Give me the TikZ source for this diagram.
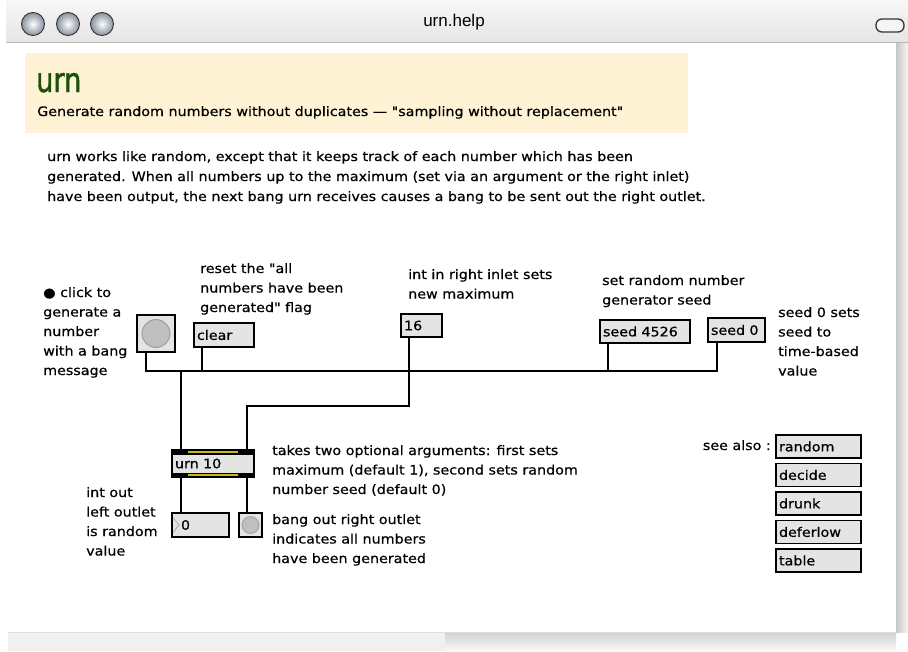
\documentclass[tikz,border=0pt]{standalone}
\usepackage{fontspec}
\newfontfamily\genevafont[FakeStretch=1.1,FakeBold=0.6]{DejaVu Sans}
\newfontfamily\urnfont[FakeStretch=0.8,FakeBold=1.2]{DejaVu Sans}
\newfontfamily\titlefont{Liberation Sans}
\newcommand{\gen}{\genevafont\fontsize{13}{19.5}\selectfont}
\newcommand{\genp}{\genevafont\fontsize{13}{20}\selectfont}
\definecolor{hdr}{RGB}{254,244,213}
\definecolor{urngreen}{RGB}{30,80,10}
\definecolor{boxfill}{RGB}{228,228,228}
\definecolor{yel}{RGB}{205,185,20}
\definecolor{glass}{RGB}{135,145,158}
\begin{document}
\begin{tikzpicture}[x=1pt,y=-1pt,
  maxbox/.style={draw=black, fill=boxfill, line width=1.2pt, inner sep=0pt, inner xsep=3pt,
    outer sep=0pt, anchor=north west, font=\gen, align=left},
  cord/.style={line width=1.3pt, black},
  cmt/.style={anchor=base west, inner sep=0pt, font=\gen},
]
\useasboundingbox (0,0) rectangle (908,651);
\fill[white] (0,0) rectangle (908,651);
% title bar
\shade[top color=gray!6, bottom color=gray!20] (6,0) rectangle (908,42);
\draw[gray!55, line width=1pt] (6,42) -- (908,42);
\foreach \cx in {33,68,102}
  \shade[inner color=white, outer color=glass, draw=gray!40!black, line width=0.9pt] (\cx,24) circle (11.5);
\node[font=\titlefont\fontsize{17}{20}\selectfont] (title) at (454,22) {urn.help};
\draw[gray!40!black, line width=1.3pt, fill=gray!8, rounded corners=6pt] (876,19) rectangle (904,32);
% scroll areas
\shade[left color=gray!45, right color=gray!6] (896,43) rectangle (908,632);
\fill[gray!12] (8,633) rectangle (445,651);
\shade[top color=gray!35, bottom color=gray!4] (445,633) rectangle (896,651);
\draw[gray!25] (8,632.5) -- (896,632.5);
% header
\fill[hdr] (25,53) rectangle (688,133);
\node[anchor=base west, inner sep=0pt, text=urngreen, font=\urnfont\fontsize{34}{36}\selectfont] (urnt) at (36,92) {urn};
\node[cmt] (sub) at (37,116) {Generate random numbers without duplicates — "sampling without replacement"};
% paragraph
\node[anchor=base west, inner sep=0pt, font=\genp] (para) at (47,161)
  {\begin{tabular}[t]{@{}l@{}}urn works like random, except that it keeps track of each number which has been\\
   generated. When all numbers up to the maximum (set via an argument or the right inlet)\\
   have been output, the next bang urn receives causes a bang to be sent out the right outlet.\end{tabular}};
% comments
\node[cmt] (c1) at (43,297) {\begin{tabular}[t]{@{}l@{}}● click to\\generate a\\number\\with a bang\\message\end{tabular}};
\node[cmt] (c2) at (200,273) {\begin{tabular}[t]{@{}l@{}}reset the "all\\numbers have been\\generated" flag\end{tabular}};
\node[cmt] (c3) at (408,279) {\begin{tabular}[t]{@{}l@{}}int in right inlet sets\\new maximum\end{tabular}};
\node[cmt] (c4) at (602,285) {\begin{tabular}[t]{@{}l@{}}set random number\\generator seed\end{tabular}};
\node[cmt] (c5) at (778,317) {\begin{tabular}[t]{@{}l@{}}seed 0 sets\\seed to\\time-based\\value\end{tabular}};
\node[cmt] (c6) at (272,455) {\begin{tabular}[t]{@{}l@{}}takes two optional arguments: first sets\\maximum (default 1), second sets random\\number seed (default 0)\end{tabular}};
\node[cmt] (c7) at (86,497) {\begin{tabular}[t]{@{}l@{}}int out\\left outlet\\is random\\value\end{tabular}};
\node[cmt] (c8) at (272,524) {\begin{tabular}[t]{@{}l@{}}bang out right outlet\\indicates all numbers\\have been generated\end{tabular}};
\node[cmt, anchor=base east] (see) at (771,450) {see also :};
% objects
\node[maxbox, minimum width=38pt, minimum height=37pt] (bang1) at (137,315) {};
\filldraw[fill=gray!50, draw=gray!75, line width=1pt] (bang1.center) circle (14);
\node[maxbox, text width=54pt, minimum height=24pt] (clear) at (194,323) {clear};
\node[maxbox, text width=35pt, minimum height=23pt] (num16) at (401,314) {16};
\node[maxbox, text width=84pt, minimum height=23pt] (seedA) at (600,320) {seed 4526};
\node[maxbox, text width=51pt, minimum height=24pt] (seedB) at (708,318) {seed 0};
\node[maxbox, text width=76pt, minimum height=27pt] (urn) at (172,450) {urn 10};
\fill[black] (172,450) rectangle (254,454.5);
\draw[yel, line width=1.6pt] (188,452.2) -- (238,452.2);
\fill[black] (172,472.5) rectangle (254,477);
\draw[yel, line width=1.6pt] (188,474.8) -- (238,474.8);
\node[maxbox, text width=51pt, minimum height=24pt] (num0) at (172,513) {\hspace*{6pt}0};
\draw[gray!60, line width=1pt] (173.5,518) -- (179,525) -- (173.5,532);
\node[maxbox, minimum width=23pt, minimum height=24pt] (bang2) at (239,513) {};
\filldraw[fill=gray!50, draw=gray!75, line width=0.8pt] (bang2.center) circle (8.5);
% see also
\node[maxbox, text width=79pt, minimum height=23pt] (s1) at (776,435) {random};
\node[maxbox, text width=79pt, minimum height=23pt] (s2) at (776,463.5) {decide};
\node[maxbox, text width=79pt, minimum height=23pt] (s3) at (776,492) {drunk};
\node[maxbox, text width=79pt, minimum height=23pt] (s4) at (776,520.5) {deferlow};
\node[maxbox, text width=79pt, minimum height=23pt] (s5) at (776,549) {table};
% cords
\coordinate (bus) at (181,371);
\coordinate (bend16) at (247,406);
\draw[cord] ([xshift=9pt]bang1.south west) |- (bus) -- ([xshift=9pt]urn.north west);
\draw[cord] ([xshift=8pt]clear.south west) |- (bus);
\draw[cord] ([xshift=8pt]seedA.south west) |- (bus);
\draw[cord] ([xshift=9pt]seedB.south west) |- (bus);
\draw[cord] ([xshift=8pt]num16.south west) |- (bend16) -- ([xshift=75pt]urn.north west);
\draw[cord] ([xshift=9pt]urn.south west) -- ([xshift=9pt]num0.north west);
\draw[cord] ([xshift=75pt]urn.south west) -- ([xshift=8pt]bang2.north west);
\end{tikzpicture}
\end{document}
